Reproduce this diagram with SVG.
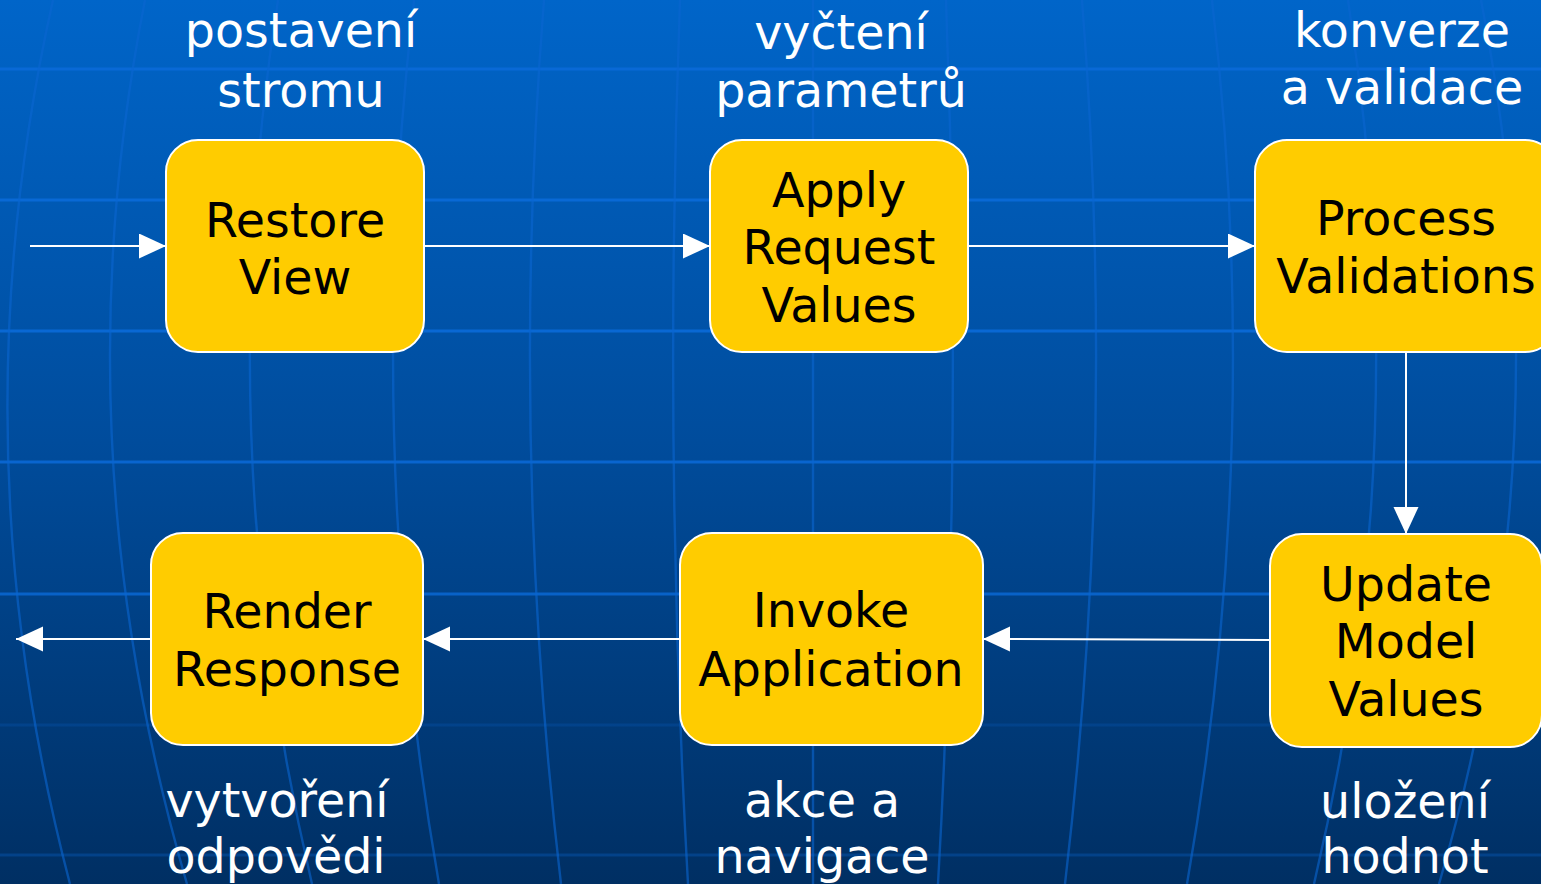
<svg xmlns="http://www.w3.org/2000/svg" width="1541" height="884" viewBox="0 0 1541 884">
  <defs>
    <linearGradient id="sky" x1="0" y1="0" x2="0" y2="1">
      <stop offset="0" stop-color="#0065C9"/>
      <stop offset="0.5" stop-color="#004C9C"/>
      <stop offset="1" stop-color="#002F63"/>
    </linearGradient>
    <marker id="arrow" markerUnits="userSpaceOnUse" markerWidth="28" markerHeight="26" refX="27" refY="12.5" orient="auto">
      <path d="M0,0 L27,12.5 L0,25 z" fill="#FFFFFF"/>
    </marker>
    <style>
      .lat { stroke: #0A6AD8; stroke-width: 3; fill: none; }
      .lon { stroke: #0A66D0; stroke-width: 2.4; fill: none; opacity: 0.6; }
      .box { fill: #FFCC00; stroke: #FFFFFF; stroke-width: 2; }
      .name { font-family: "DejaVu Sans", Verdana, sans-serif; font-size: 47.5px; fill: #000000; text-anchor: middle; }
      .note { font-family: "DejaVu Sans", Verdana, sans-serif; font-size: 47.5px; fill: #FFFFFF; text-anchor: middle; }
      .edge { stroke: #FFFFFF; stroke-width: 2; fill: none; marker-end: url(#arrow); }
    </style>
  </defs>

  <!-- backdrop with globe grid -->
  <rect x="0" y="0" width="1541" height="884" fill="url(#sky)"/>
  <g id="grid">
    <line class="lat" x1="0" y1="69" x2="1541" y2="69" opacity="0.9"/>
    <line class="lat" x1="0" y1="200" x2="1541" y2="200" opacity="0.9"/>
    <line class="lat" x1="0" y1="331" x2="1541" y2="331" opacity="0.9"/>
    <line class="lat" x1="0" y1="462" x2="1541" y2="462" opacity="0.85"/>
    <line class="lat" x1="0" y1="594" x2="1541" y2="594" opacity="0.8"/>
    <line class="lat" x1="0" y1="725" x2="1541" y2="725" opacity="0.2"/>
    <line class="lat" x1="0" y1="855" x2="1541" y2="855" opacity="0.3"/>
    <path class="lon" d="M813,0 L813,884"/>
    <path class="lon" d="M946,0 Q963,442 938,884"/>
    <path class="lon" d="M680,0 Q663,442 688,884"/>
    <path class="lon" d="M1082,0 Q1117,442 1065,884"/>
    <path class="lon" d="M544,0 Q509,442 561,884"/>
    <path class="lon" d="M1212,0 Q1264,442 1187,884"/>
    <path class="lon" d="M414,0 Q362,442 439,884"/>
    <path class="lon" d="M1348,0 Q1418,442 1314,884"/>
    <path class="lon" d="M278,0 Q208,442 312,884"/>
    <path class="lon" d="M1481,0 Q1568,442 1439,884"/>
    <path class="lon" d="M145,0 Q58,442 187,884"/>
    <path class="lon" d="M53,0 Q-46,442 70,884"/>
  </g>

  <!-- connectors -->
  <g id="connectors">
    <line class="edge" x1="30" y1="246" x2="166" y2="246"/>
    <line class="edge" x1="424" y1="246" x2="710" y2="246"/>
    <line class="edge" x1="968" y1="246" x2="1255" y2="246"/>
    <line class="edge" x1="1406" y1="352" x2="1406" y2="534"/>
    <line class="edge" x1="1270" y1="640" x2="983" y2="639"/>
    <line class="edge" x1="680" y1="639" x2="423" y2="639"/>
    <line class="edge" x1="151" y1="639" x2="16" y2="639"/>
  </g>

  <!-- phases -->
  <g id="restore-view">
    <rect class="box" x="166" y="140" width="258" height="212" rx="32"/>
    <text class="name" x="295" y="237">Restore<tspan x="295" y="294">View</tspan></text>
  </g>
  <g id="apply-request-values">
    <rect class="box" x="710" y="140" width="258" height="212" rx="32"/>
    <text class="name" x="839" y="207">Apply<tspan x="839" y="264">Request</tspan><tspan x="839" y="322">Values</tspan></text>
  </g>
  <g id="process-validations">
    <rect class="box" x="1255" y="140" width="302" height="212" rx="32"/>
    <text class="name" x="1406" y="235">Process<tspan x="1406" y="293">Validations</tspan></text>
  </g>
  <g id="update-model-values">
    <rect class="box" x="1270" y="534" width="272" height="213" rx="32"/>
    <text class="name" x="1406" y="601">Update<tspan x="1406" y="658">Model</tspan><tspan x="1406" y="716">Values</tspan></text>
  </g>
  <g id="invoke-application">
    <rect class="box" x="680" y="533" width="303" height="212" rx="32"/>
    <text class="name" x="831" y="627">Invoke<tspan x="831" y="686">Application</tspan></text>
  </g>
  <g id="render-response">
    <rect class="box" x="151" y="533" width="272" height="212" rx="32"/>
    <text class="name" x="287" y="628">Render<tspan x="287" y="686">Response</tspan></text>
  </g>

  <!-- phase descriptions -->
  <g id="notes">
    <text class="note" x="301" y="47">postavení<tspan x="301" y="107">stromu</tspan></text>
    <text class="note" x="841" y="49">vyčtení<tspan x="841" y="107">parametrů</tspan></text>
    <text class="note" x="1402" y="47">konverze<tspan x="1402" y="104">a validace</tspan></text>
    <text class="note" x="277" y="817">vytvoření<tspan x="276" y="873">odpovědi</tspan></text>
    <text class="note" x="822" y="817">akce a<tspan x="822" y="873">navigace</tspan></text>
    <text class="note" x="1405" y="818">uložení<tspan x="1405" y="873">hodnot</tspan></text>
  </g>
</svg>
